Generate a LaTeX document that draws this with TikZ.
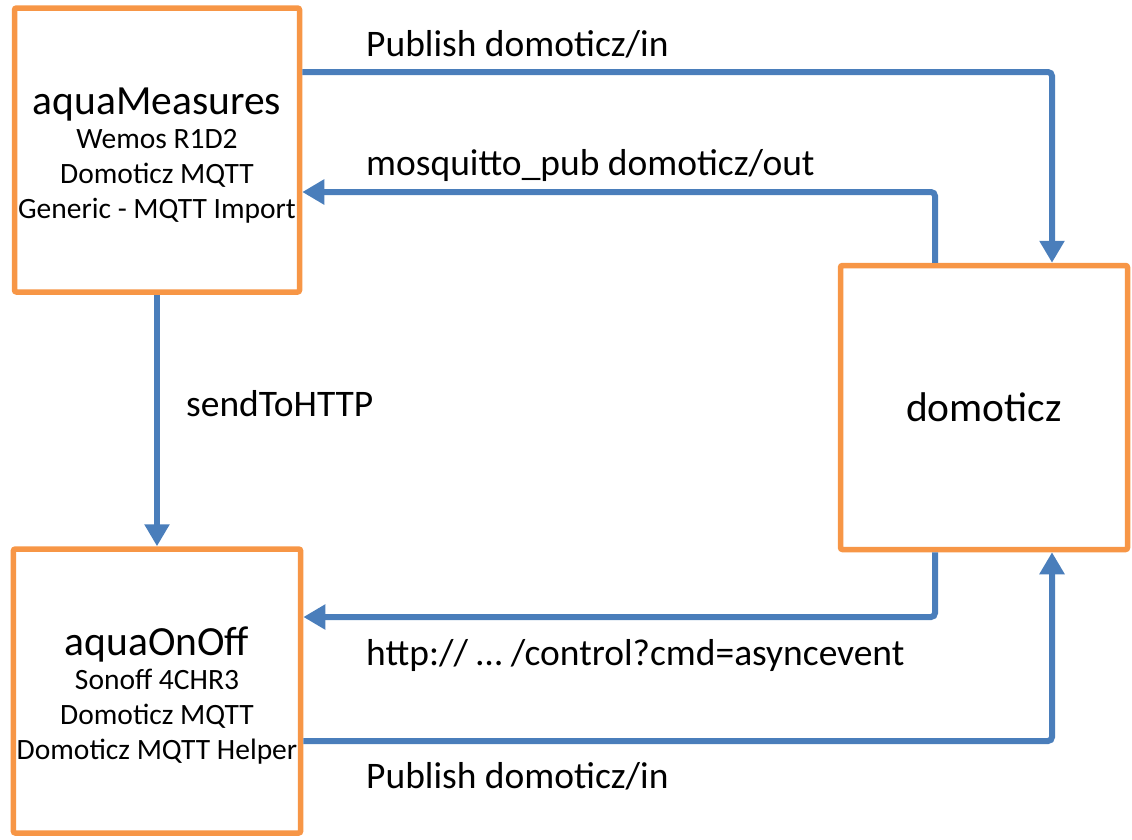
\documentclass[tikz,border=0pt]{standalone}
\usepackage{fontspec}
\setmainfont{Carlito}
\usepackage{xcolor}
\usetikzlibrary{arrows.meta,positioning}
\definecolor{boxorange}{HTML}{F79646}
\definecolor{linkblue}{HTML}{4A7EBB}
\newcommand{\titlesize}{\fontsize{41.5}{48}\selectfont}
\newcommand{\topstrut}{\rule{0pt}{38pt}}
\tikzset{
  devbox/.style={draw=boxorange, line width=5.5pt, rounded corners=2pt, fill=white,
    minimum width=285pt, minimum height=284pt, align=center,
    font=\fontsize{29.5}{35}\selectfont},
  link/.style={draw=linkblue, line width=6pt, rounded corners=4pt,
    -{Triangle[width=24pt,length=22pt]}},
  lbl/.style={anchor=base west, inner sep=0pt, font=\fontsize{37.5}{44}\selectfont}
}
\begin{document}
\begin{tikzpicture}[x=1pt, y=-1pt]
\useasboundingbox (0,0) rectangle (1132,839);
\node[devbox] (meas) at (157,150) {\topstrut{\titlesize aquaMeasures}\\[-1pt]Wemos R1D2\\Domoticz MQTT\\Generic - MQTT Import};
\node[devbox] (onoff) at (157,691) {\topstrut{\titlesize aquaOnOff}\\[-1pt]Sonoff 4CHR3\\Domoticz MQTT\\Domoticz MQTT Helper};
\node[devbox, minimum width=287pt, font=\titlesize] (dom) at (984,407.5) {domoticz};
% connectors
\draw[link] ([yshift=78pt]meas.east) -| ([xshift=68pt]dom.north);
\draw[link] ([xshift=-49pt]dom.north) |- ([yshift=-42pt]meas.east);
\draw[link] (meas.south) -- (onoff.north);
\draw[link] ([xshift=-49pt]dom.south) |- ([yshift=74pt]onoff.east);
\draw[link] ([yshift=-50pt]onoff.east) -| ([xshift=68pt]dom.south);
% labels
\node[lbl] (pubtop) at (366,56) {Publish domoticz/in};
\node[lbl] (mospub) at (366,175) {mosquitto\_pub domoticz/out};
\node[lbl] (sendhttp) at (186,416) {sendToHTTP};
\node[lbl] (httpctl) at (366,665) {http:// … /control?cmd=asyncevent};
\node[lbl] (pubbot) at (366,788) {Publish domoticz/in};
\end{tikzpicture}
\end{document}
